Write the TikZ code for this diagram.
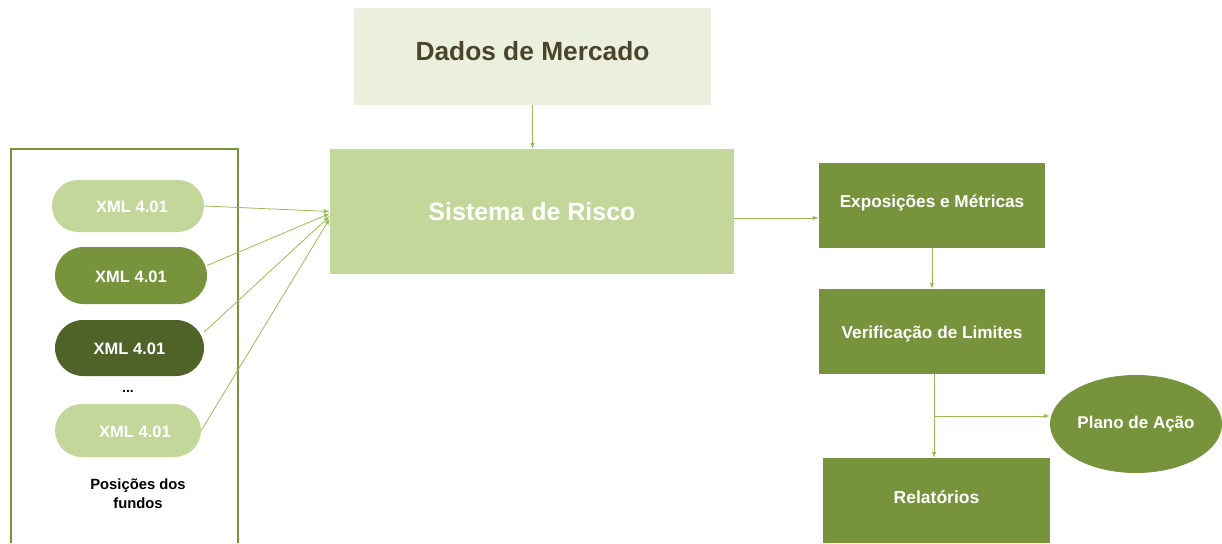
\documentclass[tikz,border=0pt]{standalone}
\usepackage{fontspec}
\setmainfont{Liberation Sans}
\usetikzlibrary{arrows.meta, calc, shapes.geometric, shapes.misc}
\definecolor{dadosfill}{HTML}{EBF0DE}
\definecolor{dadostext}{HTML}{4A452A}
\definecolor{lightgreen}{HTML}{C4D79B}
\definecolor{midgreen}{HTML}{77933C}
\definecolor{darkgreen}{HTML}{4F6228}
\definecolor{linkgreen}{HTML}{9BBB59}
\tikzset{
	box/.style={
		rectangle, inner sep=0pt, draw=none,
		fill=midgreen, text=white,
		minimum width=226pt, minimum height=85pt,
		font=\bfseries\fontsize{17.2}{20}\selectfont
	},
	pill/.style={
		rounded rectangle, inner sep=0pt, draw=none,
		text=white, text height=14pt,
		font=\bfseries\fontsize{16.5}{18}\selectfont
	},
	link/.style={-{Latex[length=6pt,width=4.5pt]}, linkgreen, line width=0.8pt},
	frame/.style={midgreen, line width=1.6pt}
}

\begin{document}
\begin{tikzpicture}[x=1pt,y=-1pt]
	\useasboundingbox (0,0) rectangle (1222,543);

	% top and centre
	\node[box, fill=dadosfill, text=dadostext, minimum width=357pt, minimum height=97pt,
		text depth=12pt, font=\bfseries\fontsize{26.3}{30}\selectfont] (dados) at (532.5,56.5) {Dados de Mercado};
	\node[box, fill=lightgreen, minimum width=404pt, minimum height=125pt,
		font=\bfseries\fontsize{25}{30}\selectfont] (sistema) at (532,211.5) {Sistema de Risco};

	% fund positions
	\draw[frame] (11,543) |- (238,149) -- (238,543);
	\node[pill, fill=lightgreen, minimum width=152pt, minimum height=52pt] (xmlA) at (128,206) {\hspace{8pt}XML 4.01};
	\node[pill, fill=midgreen,   minimum width=152pt, minimum height=57pt] (xmlB) at (131,275.5) {XML 4.01};
	\node[pill, fill=darkgreen,  minimum width=149pt, minimum height=56pt] (xmlC) at (129.5,348) {XML 4.01};
	\node[font=\bfseries\fontsize{14}{16}\selectfont] (dots) at (128,391) {...};
	\node[pill, fill=lightgreen, minimum width=146pt, minimum height=53pt] (xmlD) at (128,430.5) {\hspace{14pt}XML 4.01};
	\node[align=center, font=\bfseries\fontsize{14.8}{19}\selectfont] (fundos) at (138,494) {Posições dos\\fundos};

	% right column
	\node[box, text depth=8pt] (expo) at (932,205.5) {Exposições e Métricas};
	\node[box, text height=18pt] (verif) at (932,331.5) {Verificação de Limites};
	\node[box, minimum width=227pt, font=\bfseries\fontsize{17.5}{20}\selectfont, text depth=6pt] (relat) at (936.5,500.5) {Relatórios};
	\node[ellipse, fill=midgreen, text=white, inner sep=0pt, minimum width=172pt, minimum height=98pt,
		text depth=4pt, font=\bfseries\fontsize{17}{20}\selectfont] (plano) at (1136,424) {Plano de Ação};

	% connectors
	\draw[link] (dados.south) -- (dados.south |- sistema.north);
	\draw[link] (xmlA.east) -- (sistema.west);
	\draw[link] ([yshift=10pt]xmlB.east) -- ([yshift=-2pt]sistema.west);
	\draw[link] ([yshift=16pt]xmlC.east) -- ([yshift=-4.5pt]sistema.west);
	\draw[link] (xmlD.east) -- ([yshift=-7pt]sistema.west);
	\draw[link] ([yshift=-6.5pt]sistema.east) -- ([yshift=-6.5pt]sistema.east -| expo.west);
	\draw[link] (expo.south) -- (verif.north);
	\draw[link] ([xshift=2pt]verif.south) -- ([xshift=2pt]verif.south |- relat.north);
	\coordinate (branch) at ($([xshift=2pt]verif.south)!0.5!([xshift=2pt]verif.south |- relat.north)$);
	\draw[link] (branch) -- (branch -| plano.west);
\end{tikzpicture}
\end{document}
